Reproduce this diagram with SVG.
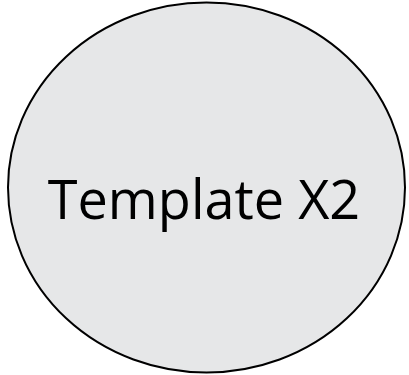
<svg xmlns="http://www.w3.org/2000/svg" width="409" height="375" viewBox="0 0 409 375">
<style>
.node-shape{fill:#e6e7e8;stroke:#000;stroke-width:2}
.label{font-family:"Open Sans","Liberation Sans",sans-serif;font-size:54px;fill:#000}
</style>
<rect width="409" height="375" fill="#fff"/>
<g id="template-x2">
<ellipse class="node-shape" cx="206.5" cy="187.5" rx="198.5" ry="185"/>
<text class="label" x="204" y="219" text-anchor="middle">Template X2</text>
</g>
<g id="connectors"/>
</svg>
